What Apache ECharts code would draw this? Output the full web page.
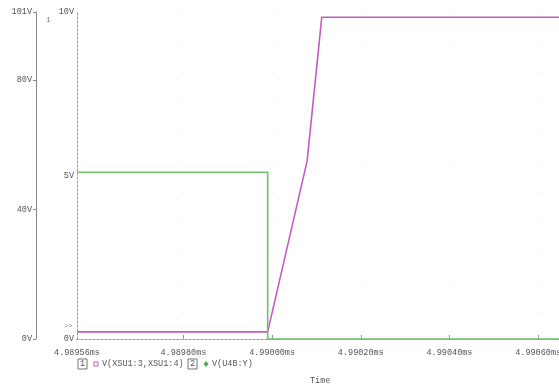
<!DOCTYPE html>
<html><head><meta charset="utf-8">
<script src="https://cdn.jsdelivr.net/npm/echarts@6/dist/echarts.min.js"></script>
<style>html,body{margin:0;padding:0;background:#fff}#c{width:559px;height:385px}</style>
</head><body><div id="c"></div>
<script>
// Time (ms)
const xTicks = [4.98956, 4.98980, 4.99000, 4.99020, 4.99040, 4.99060];
const xMin = 4.98956, xMax = 4.990647;
// Trace 1: V(XSU1:3,XSU1:4) on axis 1 (V)
const magTime = [4.98956, 4.98999, 4.990079, 4.990112, 4.990647];
const magVolt = [2.2, 2.2, 55, 99.4, 99.4];
// Trace 2: V(U4B:Y) on axis 2 (V)
const grnTime = [4.98956, 4.98999, 4.98999, 4.990647];
const grnVolt = [5.1, 5.1, 0, 0];
// Axis tick labels
const axis1Ticks = [0, 40, 80, 101];
const axis2Ticks = [0, 5, 10];

const FONT = 'Liberation Mono';
const chart = echarts.init(document.getElementById('c'), null, {renderer: 'canvas'});
chart.setOption({
  animation: false,
  backgroundColor: '#fff',
  grid: {left: 77, right: 0, top: 12, bottom: 46, containLabel: false, outerBoundsMode: 'none'},
  xAxis: [{
    type: 'value', min: xMin, max: xMax, position: 'bottom',
    axisLine: {lineStyle: {color: '#9a9a9a', type: [2, 2], width: 1}},
    axisTick: {customValues: xTicks.slice(1), length: 4, inside: true, lineStyle: {color: '#9a9a9a'}},
    axisLabel: {customValues: xTicks, formatter: v => v.toFixed(5) + 'ms', color: '#555', fontFamily: FONT, fontSize: 8.5, margin: 9},
    splitLine: {show: true, customValues: xTicks.slice(1), lineStyle: {color: '#e6e6e6', type: [1, 29]}}
  }, {
    type: 'value', min: xMin, max: xMax, position: 'top',
    axisLine: {show: true, lineStyle: {color: '#9a9a9a', type: [2, 2], width: 1}},
    axisTick: {show: false}, axisLabel: {show: false}, splitLine: {show: false}
  }],
  yAxis: [{
    type: 'value', min: 0, max: 101, position: 'left', offset: 41,
    axisLine: {show: true, lineStyle: {color: '#888', width: 1}},
    axisTick: {show: true, customValues: axis1Ticks, length: 3, lineStyle: {color: '#888'}},
    axisLabel: {customValues: axis1Ticks, formatter: v => v + 'V', color: '#555', fontFamily: FONT, fontSize: 8.5, margin: 4},
    splitLine: {show: false}
  }, {
    type: 'value', min: 0, max: 10, interval: 5, position: 'left', offset: 0,
    axisLine: {show: true, lineStyle: {color: '#9a9a9a', type: [2, 2], width: 1}},
    axisTick: {show: false},
    axisLabel: {customValues: axis2Ticks, formatter: v => v + 'V', color: '#555', fontFamily: FONT, fontSize: 8.5, margin: 3},
    splitLine: {show: false}
  }],
  series: [{
    type: 'line', xAxisIndex: 0, yAxisIndex: 0, symbol: 'none',
    data: magTime.map((t, i) => [t, magVolt[i]]),
    lineStyle: {color: '#c45bc6', width: 1.6}
  }, {
    type: 'line', xAxisIndex: 0, yAxisIndex: 1, symbol: 'none',
    data: grnTime.map((t, i) => [t, grnVolt[i]]),
    lineStyle: {color: '#6cc06c', width: 1.6}
  }],
  graphic: [
    {type: 'text', left: 46, top: 16, style: {text: '1', fill: '#777', font: '8px ' + FONT}},
    {type: 'text', left: 64, top: 323, style: {text: '>>', fill: '#888', font: '7px ' + FONT}},
    {type: 'rect', shape: {x: 78, y: 359, width: 9, height: 10}, style: {fill: 'none', stroke: '#777', lineWidth: 1}},
    {type: 'text', x: 80, y: 359, style: {text: '1', fill: '#555', font: '8.5px ' + FONT}},
    {type: 'rect', shape: {x: 94, y: 362, width: 4, height: 4}, style: {fill: 'none', stroke: '#b060b0', lineWidth: 1}},
    {type: 'text', x: 102, y: 359, style: {text: 'V(XSU1:3,XSU1:4)', fill: '#555', font: '8.5px ' + FONT}},
    {type: 'rect', shape: {x: 188, y: 359, width: 9, height: 10}, style: {fill: 'none', stroke: '#777', lineWidth: 1}},
    {type: 'text', x: 190, y: 359, style: {text: '2', fill: '#555', font: '8.5px ' + FONT}},
    {type: 'polygon', shape: {points: [[206, 361], [208.5, 364], [206, 367], [203.5, 364]]}, style: {fill: '#4caf4c'}},
    {type: 'text', x: 212, y: 359, style: {text: 'V(U4B:Y)', fill: '#555', font: '8.5px ' + FONT}},
    {type: 'text', x: 310, y: 376, style: {text: 'Time', fill: '#555', font: '8.5px ' + FONT}}
  ]
});
</script></body></html>
